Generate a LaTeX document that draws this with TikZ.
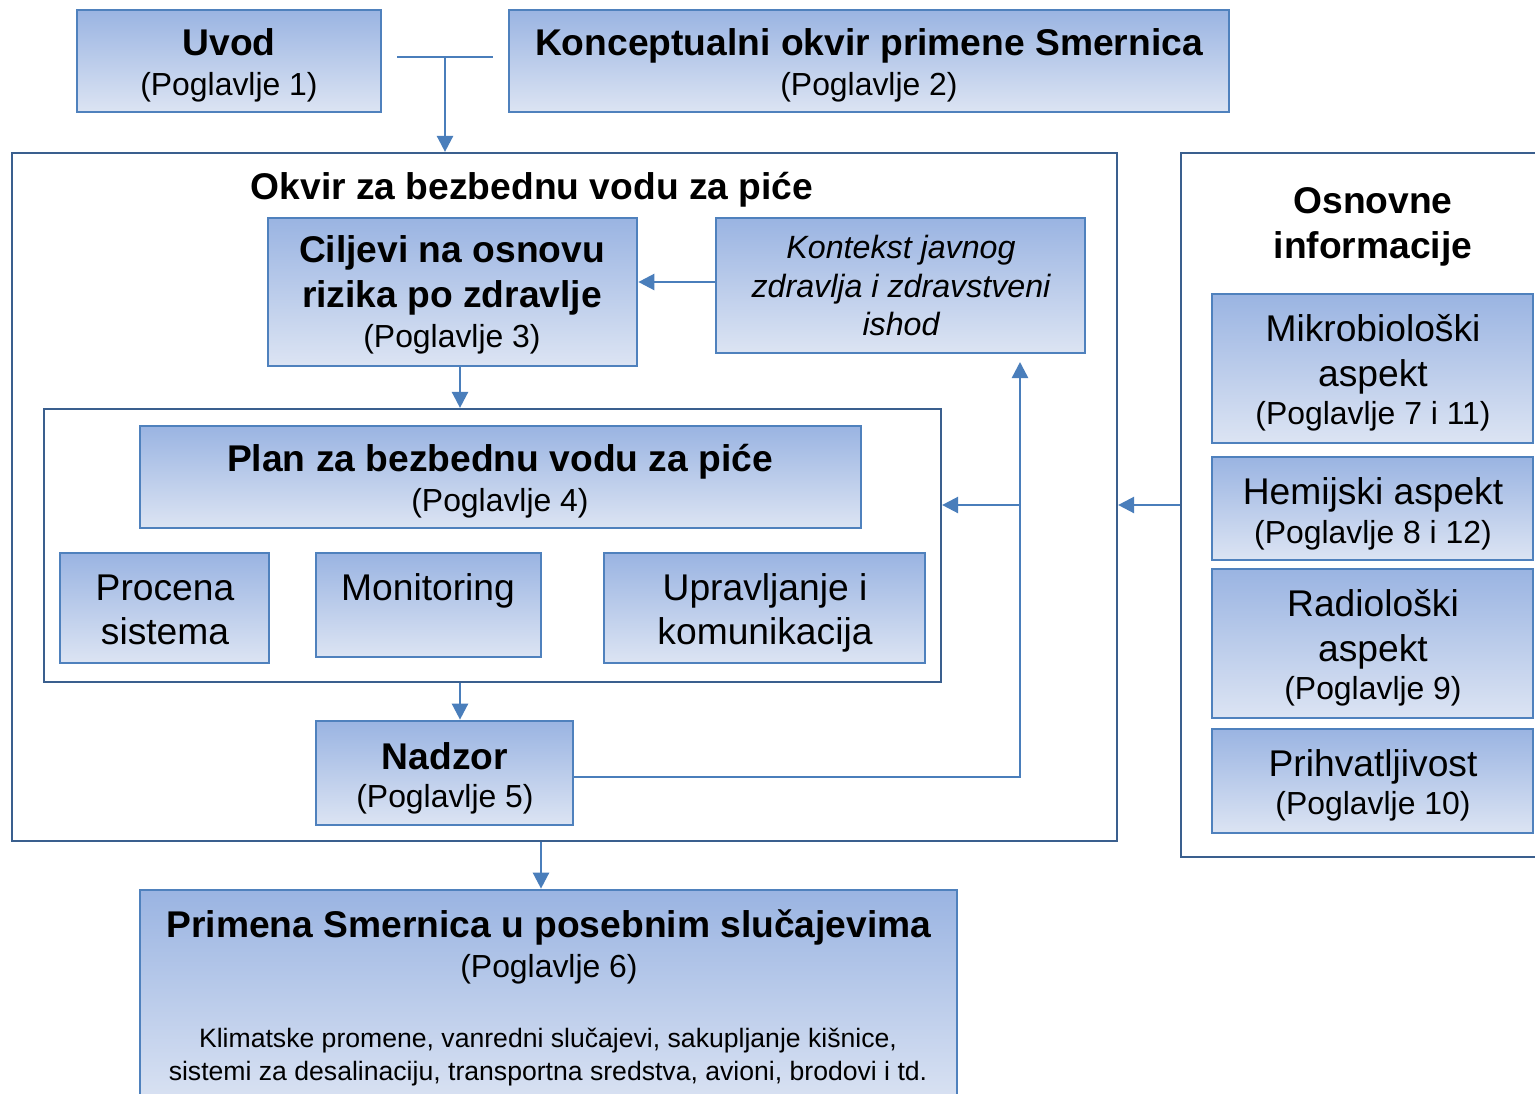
\documentclass[tikz,border=0pt]{standalone}
\usepackage{fontspec}
\setmainfont{Liberation Sans}
\usetikzlibrary{arrows.meta,fit}
\definecolor{bxline}{HTML}{4F81BD}
\definecolor{frline}{HTML}{3A5F8E}
\definecolor{arr}{HTML}{4A7EBB}
\definecolor{topc}{HTML}{9AB4E2}
\definecolor{botc}{HTML}{DCE4F3}
\tikzset{
 box/.style={draw=bxline, line width=2.7pt, top color=topc, bottom color=botc, inner sep=0pt, rectangle},
 frame/.style={draw=frline, line width=2.2pt, inner sep=0pt, rectangle},
 conn/.style={draw=arr, line width=2.5pt},
 arrowc/.style={conn, -{Triangle[length=16pt,width=16pt]}},
 txb/.style={anchor=base, font=\fontsize{37.2}{44}\selectfont\bfseries, inner sep=0pt},
 txr/.style={anchor=base, font=\fontsize{31.9}{38}\selectfont, inner sep=0pt},
 txl/.style={anchor=base, font=\fontsize{37.2}{44}\selectfont, inner sep=0pt},
 txi/.style={anchor=base, font=\fontsize{32.2}{38}\selectfont\itshape, inner sep=0pt},
 txs/.style={anchor=base, font=\fontsize{26.6}{30}\selectfont, inner sep=0pt},
}
\newcommand\BX[6]{\path (#3,#4) coordinate (#2-a) (#5,#6) coordinate (#2-b); \node[#1, fit=(#2-a)(#2-b)] (#2) {};}
\begin{document}
\begin{tikzpicture}[x=1pt,y=-1pt]
\clip (0,0) rectangle (1535,1093);
\fill[white] (0,0) rectangle (1535,1093);
% frames
\BX{frame}{okvir}{12}{153}{1117}{841}
\BX{frame}{planf}{44}{409}{941}{682}
\BX{frame}{osn}{1181}{153}{1545}{857}
% boxes
\BX{box}{uvod}{77}{10}{381}{112}
\BX{box}{konc}{509}{10}{1229}{112}
\BX{box}{cilj}{268}{218}{637}{366}
\BX{box}{kont}{716}{218}{1085}{353}
\BX{box}{plan}{140}{426}{861}{528}
\BX{box}{proc}{60}{553}{269}{663}
\BX{box}{moni}{316}{553}{541}{657}
\BX{box}{uprv}{604}{553}{925}{663}
\BX{box}{nadz}{316}{721}{573}{825}
\BX{box}{mikr}{1212}{294}{1533}{443}
\BX{box}{hemi}{1212}{457}{1533}{560}
\BX{box}{radi}{1212}{569}{1533}{718}
\BX{box}{prih}{1212}{729}{1533}{833}
\BX{box}{prim}{140}{890}{957}{1110}
% texts
\node[txb] (t1) at (229,55) {Uvod};
\node[txr] (t2) at (229,95) {(Poglavlje 1)};
\node[txb] (t3) at (869,55) {Konceptualni okvir primene Smernica};
\node[txr] (t4) at (869,95) {(Poglavlje 2)};
\node[txb] (t5) at (532,199) {Okvir za bezbednu vodu za piće};
\node[txb] (t6) at (452,262) {Ciljevi na osnovu};
\node[txb] (t7) at (452,307) {rizika po zdravlje};
\node[txr] (t8) at (452,347) {(Poglavlje 3)};
\node[txi] (t9) at (901,258) {Kontekst javnog};
\node[txi] (t10) at (901,297) {zdravlja i zdravstveni};
\node[txi] (t11) at (901,335) {ishod};
\node[txb] (t12) at (500,471) {Plan za bezbednu vodu za piće};
\node[txr] (t13) at (500,511) {(Poglavlje 4)};
\node[txl] (t14) at (165,600) {Procena};
\node[txl] (t15) at (165,644) {sistema};
\node[txl] (t16) at (428,600) {Monitoring};
\node[txl] (t17) at (765,600) {Upravljanje i};
\node[txl] (t18) at (765,644) {komunikacija};
\node[txb] (t19) at (445,769) {Nadzor};
\node[txr] (t20) at (445,807) {(Poglavlje 5)};
\node[txb] (t21) at (1373,213) {Osnovne};
\node[txb] (t22) at (1373,258) {informacije};
\node[txl] (t23) at (1373,341) {Mikrobiološki};
\node[txl] (t24) at (1373,386) {aspekt};
\node[txr] (t25) at (1373,424) {(Poglavlje 7 i 11)};
\node[txl] (t26) at (1373,504) {Hemijski aspekt};
\node[txr] (t27) at (1373,543) {(Poglavlje 8 i 12)};
\node[txl] (t28) at (1373,616) {Radiološki};
\node[txl] (t29) at (1373,661) {aspekt};
\node[txr] (t30) at (1373,699) {(Poglavlje 9)};
\node[txl] (t31) at (1373,776) {Prihvatljivost};
\node[txr] (t32) at (1373,814) {(Poglavlje 10)};
\node[txb] (t33) at (549,937) {Primena Smernica u posebnim slučajevima};
\node[txr] (t34) at (549,977) {(Poglavlje 6)};
\node[txs] (t35) at (548,1047) {Klimatske promene, vanredni slučajevi, sakupljanje kišnice,};
\node[txs] (t36) at (548,1080) {sistemi za desalinaciju, transportna sredstva, avioni, brodovi i td.};
% connectors
\coordinate (tL) at (397,57);
\coordinate (tR) at (493,57);
\coordinate (tJ) at (445,57);
\coordinate (a1) at (460,0);
\coordinate (a2) at (541,0);
\coordinate (kc) at (1020,777);
\coordinate (kb) at (1020,505);
\coordinate (ktip) at (1020,362);
\draw[conn] (tL) -- (tR);
\draw[arrowc] (tJ) -- (tJ |- okvir.north);
\draw[arrowc] (kont.west |- 0,282) -- (cilj.east |- 0,282);
\draw[arrowc] (cilj.south -| a1) -- (planf.north -| a1);
\draw[arrowc] (planf.south -| a1) -- (nadz.north -| a1);
\draw[arrowc] (nadz.east |- kc) -- (kc) -- (ktip);
\draw[arrowc] (kb) -- (planf.east |- kb);
\draw[arrowc] (osn.west |- kb) -- (okvir.east |- kb);
\draw[arrowc] (okvir.south -| a2) -- (prim.north -| a2);
\end{tikzpicture}
\end{document}
